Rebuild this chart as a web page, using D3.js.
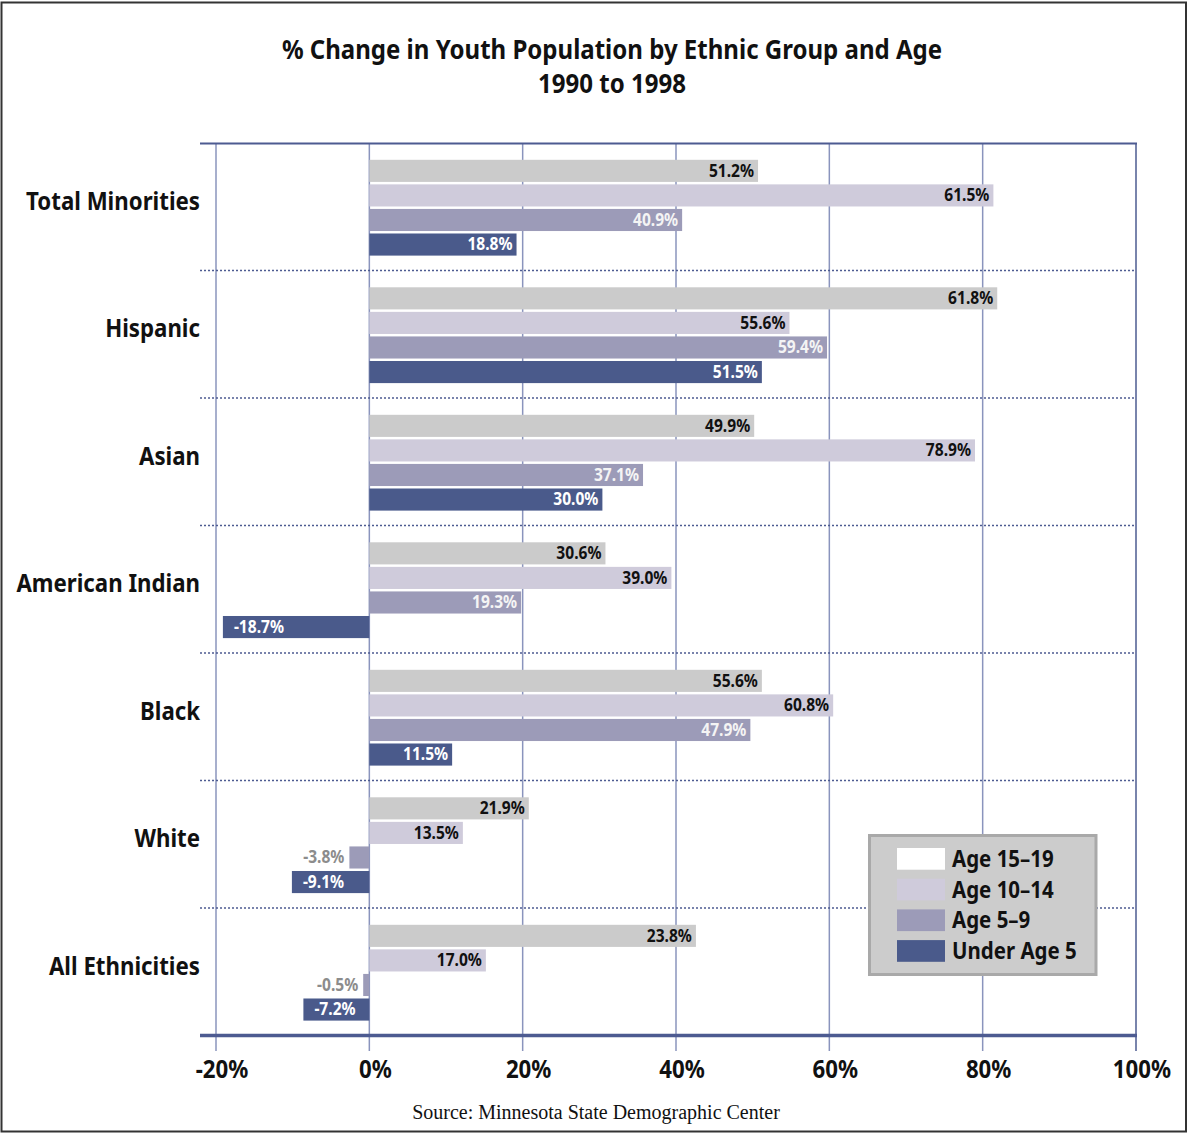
<!DOCTYPE html>
<html><head><meta charset="utf-8">
<script src="https://cdn.jsdelivr.net/npm/d3@7"></script>
<style>
body{margin:0;background:#fff}
text.b{font-family:"Noto Sans","Open Sans",sans-serif;font-stretch:condensed;font-weight:700}
</style>
</head><body>
<svg id="c" width="1188" height="1133"></svg>
<script>
const categories = ["Total Minorities","Hispanic","Asian","American Indian","Black","White","All Ethnicities"];
const series = ["Age 15–19","Age 10–14","Age 5–9","Under Age 5"];
// bar lengths as drawn in the picture (%)
const age15_19 = [50.7, 81.9, 50.2, 30.8, 51.2, 20.8, 42.6];
const age10_14 = [81.4, 54.8, 79.0, 39.4, 60.5, 12.2, 15.2];
const age5_9   = [40.8, 59.7, 35.7, 19.8, 49.7, -2.6, -0.8];
const under5   = [19.2, 51.2, 30.4, -19.1, 10.8, -10.1, -8.6];
// printed value labels
const lab15_19 = ["51.2%","61.8%","49.9%","30.6%","55.6%","21.9%","23.8%"];
const lab10_14 = ["61.5%","55.6%","78.9%","39.0%","60.8%","13.5%","17.0%"];
const lab5_9   = ["40.9%","59.4%","37.1%","19.3%","47.9%","-3.8%","-0.5%"];
const labU5    = ["18.8%","51.5%","30.0%","-18.7%","11.5%","-9.1%","-7.2%"];
const xTicks = [-20,0,20,40,60,80,100];
const tickLabels = ["-20%","0%","20%","40%","60%","80%","100%"];

const values = [age15_19, age10_14, age5_9, under5];
const labels = [lab15_19, lab10_14, lab5_9, labU5];
const barColors = ["#cbcbcb","#cfcbdb","#9c9bb8","#4a5a8b"];
const swatchColors = ["#ffffff","#cfcbdb","#9c9bb8","#4a5a8b"];
const labelColors = ["#111","#111","#f4f4f4","#ffffff"];
const frameColor = "#4d5b91", gridColor = "#8a94bd";

const svg = d3.select("#c");
const x = d3.scaleLinear().domain([-20,100]).range([216,1136]);
const y = d3.scaleBand().domain(categories).range([143,1035.5]);
const yi = d3.scaleBand().domain(d3.range(4)).range([16.8,112.6]).paddingInner(0.1);

// condensation factor
const probe = svg.append("text").attr("class","b").style("font-size","25px").text("Total Minorities");
const f = Math.min(1, 174/probe.node().getComputedTextLength());
probe.remove();
function cond(sel, k){
  const ff = k || f;
  sel.each(function(){
    const t=d3.select(this), tx=+t.attr("x"), ty=+t.attr("y");
    t.attr("transform",`translate(${tx},${ty}) scale(${ff},1) translate(${-tx},${-ty})`);
  });
}

// outer border
svg.append("rect").attr("x",1.5).attr("y",2.5).attr("width",1184.5).attr("height",1129)
  .attr("fill","none").attr("stroke","#333").attr("stroke-width",2);

// title
svg.append("text").attr("class","b").attr("x",612).attr("y",59).attr("text-anchor","middle")
  .style("font-size","27px").attr("fill","#111").text("% Change in Youth Population by Ethnic Group and Age").call(cond);
svg.append("text").attr("class","b").attr("x",612).attr("y",93).attr("text-anchor","middle")
  .style("font-size","27px").attr("fill","#111").text("1990 to 1998").call(cond);

// gridlines
svg.append("g").selectAll("line").data(xTicks.slice(0,-1)).join("line")
  .attr("x1",d=>x(d)).attr("x2",d=>x(d)).attr("y1",143).attr("y2",1051)
  .attr("stroke",gridColor).attr("stroke-width",1.5);

// separators
svg.append("g").selectAll("line").data(categories.slice(1)).join("line")
  .attr("x1",200).attr("x2",1136).attr("y1",d=>y(d)).attr("y2",d=>y(d))
  .attr("stroke",frameColor).attr("stroke-width",1.5).attr("stroke-dasharray","2,2");

// bars
const groups = svg.append("g").selectAll("g").data(categories).join("g")
  .attr("transform",d=>`translate(0,${y(d)})`);
groups.each(function(cat,ci){
  const g=d3.select(this);
  values.forEach((arr,si)=>{
    const v=arr[ci];
    const x0=x(Math.min(0,v)), x1=x(Math.max(0,v));
    const by=yi(si);
    g.append("rect").attr("x",x0).attr("y",by).attr("width",x1-x0).attr("height",yi.bandwidth())
      .attr("fill",barColors[si]);
    const t=g.append("text").attr("class","b").style("font-size","17.5px").attr("y",by+17).text(labels[si][ci]);
    if(v>=0){
      t.attr("x",x1-4).attr("text-anchor","end").attr("fill",labelColors[si]);
    } else if (x1-x0>45){
      t.attr("x",x0+11).attr("text-anchor","start").attr("fill","#fff");
    } else {
      t.attr("x",x0-5).attr("text-anchor","end").attr("fill","#8c8c8c");
    }
    t.call(cond);
  });
});

// frame lines
svg.append("line").attr("x1",200).attr("x2",1137).attr("y1",143.5).attr("y2",143.5)
  .attr("stroke",frameColor).attr("stroke-width",2);
svg.append("line").attr("x1",x(100)).attr("x2",x(100)).attr("y1",143).attr("y2",1051)
  .attr("stroke",frameColor).attr("stroke-width",1.5);
svg.append("line").attr("x1",200).attr("x2",1137).attr("y1",1035.5).attr("y2",1035.5)
  .attr("stroke",frameColor).attr("stroke-width",3.5);

// category labels
svg.append("g").selectAll("text").data(categories).join("text").attr("class","b")
  .attr("x",200).attr("y",d=>y(d)+y.bandwidth()/2+3).attr("text-anchor","end")
  .style("font-size","25px").attr("fill","#111").text(d=>d).call(cond);

// x tick labels
svg.append("g").selectAll("text").data(xTicks).join("text").attr("class","b")
  .attr("x",d=>x(d)+6).attr("y",1078).attr("text-anchor","middle")
  .style("font-size","25px").attr("fill","#111").text((d,i)=>tickLabels[i]).call(cond);

// source
svg.append("text").attr("x",596).attr("y",1119).attr("text-anchor","middle")
  .style("font-family","'Liberation Serif','DejaVu Serif',serif").style("font-size","20px")
  .attr("fill","#111").text("Source: Minnesota State Demographic Center");

// legend
const lg = svg.append("g");
lg.append("rect").attr("x",869.5).attr("y",835.5).attr("width",226.5).attr("height",139)
  .attr("fill","#cccccc").attr("stroke","#a9a9a9").attr("stroke-width",3);
series.forEach((s,i)=>{
  const sy=848+i*30.7;
  lg.append("rect").attr("x",897).attr("y",sy).attr("width",48).attr("height",21.7).attr("fill",swatchColors[i]);
  lg.append("text").attr("class","b").attr("x",952).attr("y",sy+19).style("font-size","23px")
    .attr("fill","#111").text(s).call(cond);
});
</script>
</body></html>
